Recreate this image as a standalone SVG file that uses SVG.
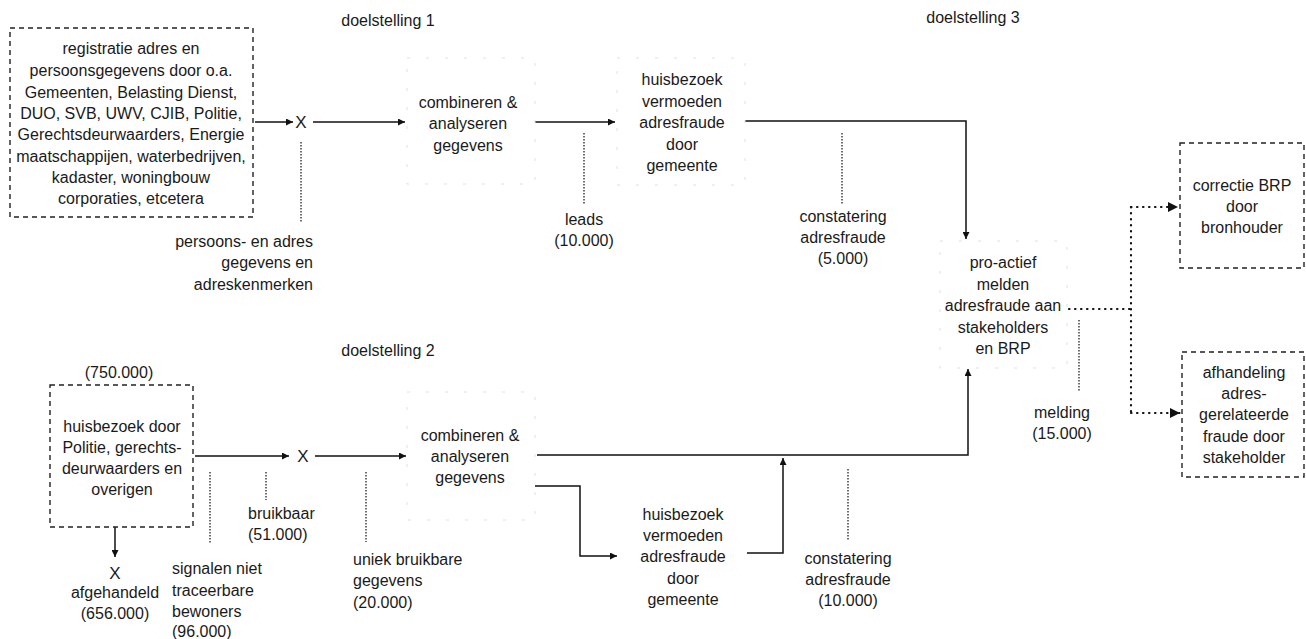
<svg xmlns="http://www.w3.org/2000/svg" width="1306" height="639" viewBox="0 0 1306 639">
<defs>
<marker id="ah" viewBox="0 0 10 10" refX="10" refY="5" markerWidth="7" markerHeight="7" markerUnits="userSpaceOnUse" orient="auto"><path d="M0,0 L10,5 L0,10 z" fill="#111"/></marker>
<marker id="ah2" viewBox="0 0 10 10" refX="10" refY="5" markerWidth="10" markerHeight="10" markerUnits="userSpaceOnUse" orient="auto"><path d="M0,0 L10,5 L0,10 z" fill="#111"/></marker>
</defs>
<style>
text{font-family:"Liberation Sans",Arial,sans-serif;font-size:16px;fill:#1a1a1a;}
.c{text-anchor:middle;}
.r{text-anchor:end;}
.l{text-anchor:start;}
.x{font-size:17px;}
.box{fill:#fff;stroke:#222;stroke-width:1.4;stroke-dasharray:5 4;}
.faint{fill:#fff;stroke:#e0e0e0;stroke-width:1;stroke-dasharray:3 16;}
.ln{fill:none;stroke:#111;stroke-width:1.5;}
.dot{fill:none;stroke:#222;stroke-width:1.3;stroke-dasharray:1.5 1.5;}
.dot2{fill:none;stroke:#111;stroke-width:2.2;stroke-dasharray:0.5 5.5;stroke-linecap:round;}
</style>
<rect width="1306" height="639" fill="#fff"/>

<g id="connectors">
<path class="ln" d="M255,122 H293" marker-end="url(#ah)"/>
<path class="ln" d="M313,122 H405" marker-end="url(#ah)"/>
<path class="ln" d="M535,122 H615" marker-end="url(#ah)"/>
<path class="ln" d="M743,121 H966 V239" marker-end="url(#ah)"/>
<path class="dot" d="M301,142 V223"/>
<path class="dot" d="M584,133 V204"/>
<path class="dot" d="M842,133 V204"/>
<path class="dot2" d="M1069,309 H1131 M1131,207 V413"/>
<path class="dot2" d="M1131,207 H1178" marker-end="url(#ah2)"/>
<path class="dot2" d="M1131,413 H1180" marker-end="url(#ah2)"/>
<path class="dot" d="M1079,320 V392"/>
<path class="ln" d="M195,456 H289" marker-end="url(#ah)"/>
<path class="ln" d="M315,456 H406" marker-end="url(#ah)"/>
<path class="ln" d="M115,527 V557" marker-end="url(#ah)"/>
<path class="dot" d="M210,472 V543"/>
<path class="dot" d="M266,472 V500"/>
<path class="dot" d="M366,472 V542"/>
<path class="ln" d="M537,455 H968 V369" marker-end="url(#ah)"/>
<path class="ln" d="M533,486 H580 V556 H617" marker-end="url(#ah)"/>
<path class="ln" d="M747,553 H783 V458" marker-end="url(#ah)"/>
<path class="dot" d="M848,469 V541"/>
</g>

<g id="src1">
<rect class="box" x="10" y="28" width="243" height="189"/>
<text class="c" x="131" y="54">registratie adres en</text>
<text class="c" x="131" y="76">persoonsgegevens door o.a.</text>
<text class="c" x="131" y="98">Gemeenten, Belasting Dienst,</text>
<text class="c" x="131" y="119">DUO, SVB, UWV, CJIB, Politie,</text>
<text class="c" x="131" y="140">Gerechtsdeurwaarders, Energie</text>
<text class="c" x="131" y="162">maatschappijen, waterbedrijven,</text>
<text class="c" x="131" y="183">kadaster, woningbouw</text>
<text class="c" x="131" y="204">corporaties, etcetera</text>
</g>
<g id="x1"><text class="c x" x="301" y="128">X</text></g>
<g id="lbl-persoons">
<text class="r" x="313" y="247">persoons- en adres</text>
<text class="r" x="313" y="268">gegevens en</text>
<text class="r" x="313" y="290">adreskenmerken</text>
</g>
<g id="doel1"><text class="c" x="388" y="26">doelstelling 1</text></g>
<g id="comb1">
<rect class="faint" x="407" y="58" width="128" height="126"/>
<text class="c" x="468" y="108">combineren &amp;</text>
<text class="c" x="468" y="129">analyseren</text>
<text class="c" x="468" y="151">gegevens</text>
</g>
<g id="lbl-leads">
<text class="c" x="584" y="225">leads</text>
<text class="c" x="584" y="246">(10.000)</text>
</g>
<g id="huis1">
<rect class="faint" x="617" y="58" width="128" height="127"/>
<text class="c" x="682" y="85">huisbezoek</text>
<text class="c" x="682" y="107">vermoeden</text>
<text class="c" x="682" y="128">adresfraude</text>
<text class="c" x="682" y="150">door</text>
<text class="c" x="682" y="171">gemeente</text>
</g>
<g id="lbl-const1">
<text class="c" x="843" y="222">constatering</text>
<text class="c" x="843" y="243">adresfraude</text>
<text class="c" x="843" y="264">(5.000)</text>
</g>
<g id="doel3"><text class="c" x="973" y="23">doelstelling 3</text></g>
<g id="pro">
<rect class="faint" x="940" y="241" width="127" height="127"/>
<text class="c" x="1003" y="268">pro-actief</text>
<text class="c" x="1003" y="290">melden</text>
<text class="c" x="1003" y="311">adresfraude aan</text>
<text class="c" x="1003" y="333">stakeholders</text>
<text class="c" x="1003" y="354">en BRP</text>
</g>
<g id="corr">
<rect class="box" x="1180" y="143" width="124" height="125"/>
<text class="c" x="1242" y="191">correctie BRP</text>
<text class="c" x="1242" y="212">door</text>
<text class="c" x="1242" y="233">bronhouder</text>
</g>
<g id="afh">
<rect class="box" x="1182" y="352" width="122" height="125"/>
<text class="c" x="1244" y="378">afhandeling</text>
<text class="c" x="1244" y="399">adres-</text>
<text class="c" x="1244" y="420">gerelateerde</text>
<text class="c" x="1244" y="442">fraude door</text>
<text class="c" x="1244" y="463">stakeholder</text>
</g>
<g id="lbl-melding">
<text class="c" x="1062" y="418">melding</text>
<text class="c" x="1062" y="439">(15.000)</text>
</g>

<g id="doel2"><text class="c" x="388" y="356">doelstelling 2</text></g>
<g id="src2">
<text class="c" x="119" y="378">(750.000)</text>
<rect class="box" x="50" y="385" width="143" height="142"/>
<text class="c" x="122" y="432">huisbezoek door</text>
<text class="c" x="122" y="453">Politie, gerechts-</text>
<text class="c" x="122" y="474">deurwaarders en</text>
<text class="c" x="122" y="495">overigen</text>
</g>
<g id="x2"><text class="c x" x="303" y="462">X</text></g>
<g id="x3"><text class="c x" x="115" y="579">X</text></g>
<g id="lbl-afgehandeld">
<text class="c" x="115" y="598">afgehandeld</text>
<text class="c" x="115" y="619">(656.000)</text>
</g>
<g id="lbl-signalen">
<text class="l" x="172" y="574">signalen niet</text>
<text class="l" x="172" y="596">traceerbare</text>
<text class="l" x="172" y="617">bewoners</text>
<text class="l" x="172" y="637">(96.000)</text>
</g>
<g id="lbl-bruikbaar">
<text class="l" x="248" y="519">bruikbaar</text>
<text class="l" x="248" y="540">(51.000)</text>
</g>
<g id="lbl-uniek">
<text class="l" x="353" y="565">uniek bruikbare</text>
<text class="l" x="353" y="586">gegevens</text>
<text class="l" x="353" y="608">(20.000)</text>
</g>
<g id="comb2">
<rect class="faint" x="407" y="392" width="128" height="128"/>
<text class="c" x="470" y="441">combineren &amp;</text>
<text class="c" x="470" y="462">analyseren</text>
<text class="c" x="470" y="483">gegevens</text>
</g>
<g id="huis2">
<text class="c" x="683" y="520">huisbezoek</text>
<text class="c" x="683" y="541">vermoeden</text>
<text class="c" x="683" y="562">adresfraude</text>
<text class="c" x="683" y="584">door</text>
<text class="c" x="683" y="605">gemeente</text>
</g>
<g id="lbl-const2">
<text class="c" x="848" y="564">constatering</text>
<text class="c" x="848" y="585">adresfraude</text>
<text class="c" x="848" y="606">(10.000)</text>
</g>
</svg>
